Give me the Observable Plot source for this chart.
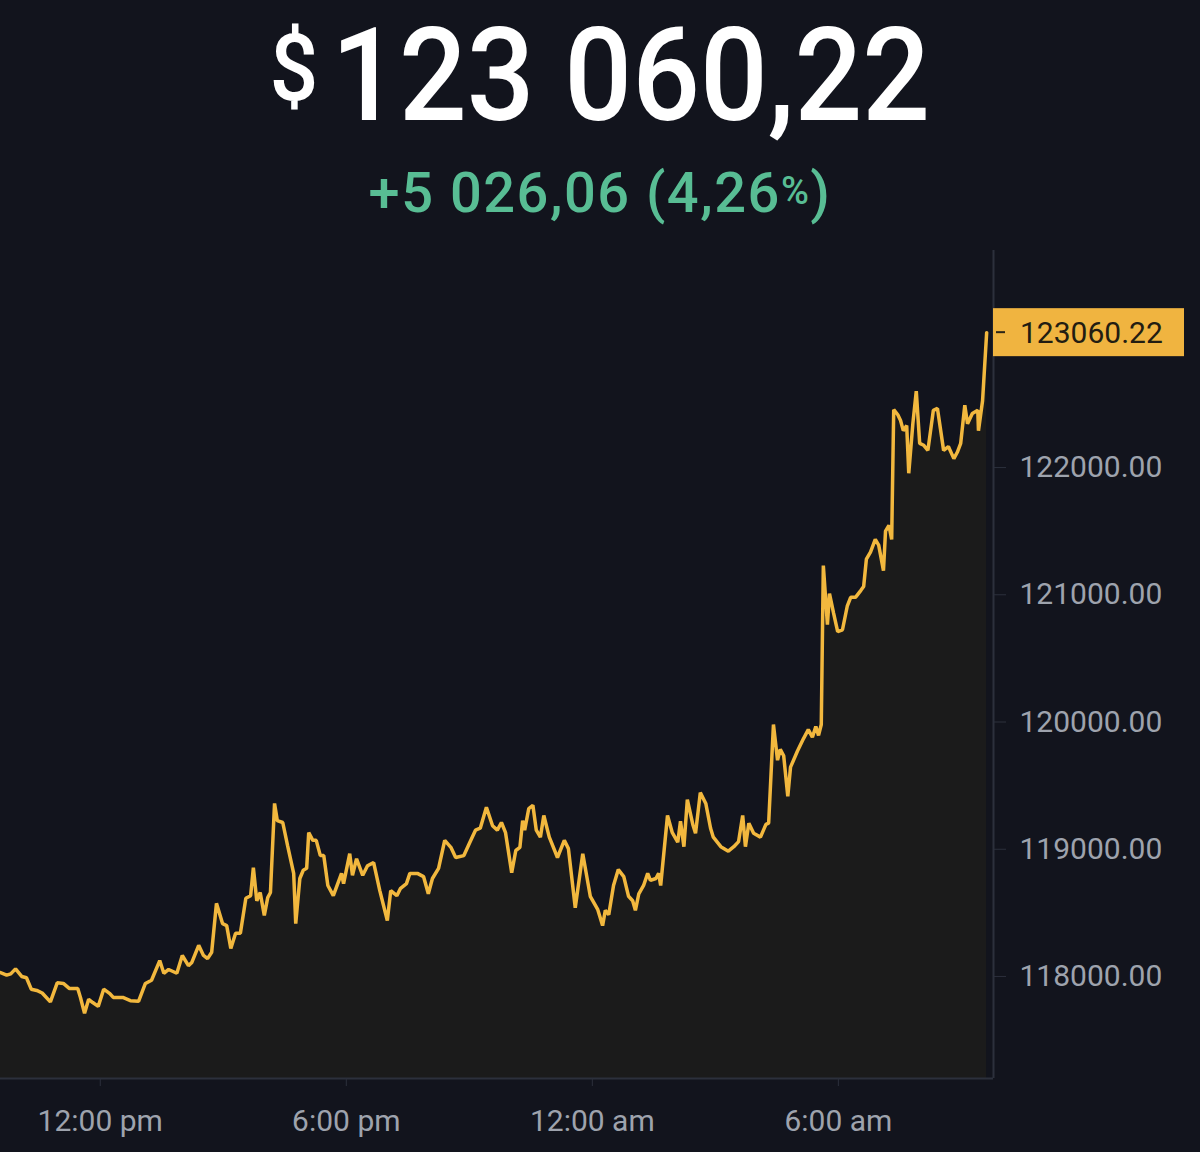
<!DOCTYPE html>
<html><head><meta charset="utf-8">
<script src="https://cdn.jsdelivr.net/npm/d3@7"></script>
<script src="https://cdn.jsdelivr.net/npm/@observablehq/plot@0.6"></script>
<style>
html,body{margin:0;padding:0;background:#12141d;width:1200px;height:1152px;overflow:hidden;font-family:Roboto,"Noto Sans",sans-serif;}
#head{position:relative;height:240px;width:1200px;}
#price{position:absolute;left:0;top:11px;width:1200px;text-align:center;color:#ffffff;font-size:129px;font-weight:500;line-height:1;transform:scaleX(0.925);transform-origin:597px 0;white-space:nowrap;}
#price .cur{font-size:93px;position:relative;top:-20px;margin-right:14px;}
#change{position:absolute;left:0;top:165px;width:1200px;text-align:center;color:#58bd94;font-size:56px;font-weight:500;line-height:1;letter-spacing:1.5px;white-space:nowrap;}
#change .pct{font-size:38px;position:relative;top:-8px;}
#chart{position:absolute;left:0;top:240px;}
</style>
</head><body>
<div id="head">
  <div id="price"><span class="cur">$</span>123 060,22</div>
  <div id="change">+5 026,06 (4,26<span class="pct">%</span>)</div>
</div>
<div id="chart"></div>
<script>
// minutes after 09:34 (start of the 24h window)
const minutes = [
0,9,15,22,31,38,45,53,61,73,
83,92,101,113,117,123,129,135,143,151,
160,165,179,190,202,212,221,233,239,246,
258,266,275,280,290,297,303,309,316,325,
331,337,344,351,359,366,370,375,380,386,
391,395,401,405,413,420,429,432,438,443,
448,451,457,462,468,473,479,487,499,502,
511,515,521,530,537,546,555,566,571,580,
585,594,599,610,619,626,632,641,650,659,
666,678,686,695,702,711,720,727,733,739,
748,754,760,764,767,773,779,784,790,795,
803,815,825,831,841,852,863,874,881,885,
890,897,904,912,919,925,929,934,941,947,
951,959,963,966,976,983,991,995,1000,1005,
1013,1017,1024,1032,1039,1043,1054,1065,1073,1080,
1086,1090,1095,1102,1112,1120,1124,1131,1137,1141,
1146,1152,1156,1166,1175,1182,1188,1193,1197,1201,
1204,1210,1213,1219,1225,1232,1239,1244,1251,1259,
1263,1267,1273,1280,1285,1292,1295,1300,1304,1307,
1313,1317,1321,1326,1329,1335,1340,1345,1351,1357,
1365,1371,1380,1387,1395,1400,1405,1411,1415,1422,
1430,1431,1437,1443];
const prices = [
118030,118010,118020,118060,118000,117990,117900,117890,117870,117800,
117950,117945,117905,117905,117835,117710,117820,117795,117765,117900,
117865,117835,117835,117810,117805,117945,117970,118125,118025,118055,
118025,118165,118085,118110,118245,118165,118140,118190,118575,118415,
118400,118220,118340,118340,118615,118635,118855,118595,118660,118480,
118620,118660,119360,119225,119210,119030,118810,118415,118770,118835,
118850,119130,119070,119070,118950,118950,118715,118635,118810,118730,
118965,118795,118925,118795,118870,118895,118675,118440,118675,118635,
118690,118730,118810,118810,118785,118650,118770,118850,119070,119015,
118935,118950,119045,119150,119165,119330,119185,119150,119210,119130,
118815,118990,119015,119225,119150,119320,119345,119150,119095,119265,
119095,118935,119070,119005,118540,118965,118630,118525,118400,118520,
118485,118715,118840,118785,118630,118595,118520,118650,118715,118810,
118755,118770,118810,118715,119265,119130,119055,119220,119020,119390,
119195,119125,119445,119360,119165,119095,119020,118985,119020,119060,
119265,119020,119205,119125,119095,119195,119205,119980,119700,119785,
119735,119415,119645,119770,119870,119940,119880,119965,119895,119980,
121230,120765,121010,120855,120710,120725,120910,120980,120980,121035,
121065,121280,121335,121435,121390,121190,121500,121545,121435,122455,
122415,122370,122290,122330,121955,122345,122600,122190,122175,122135,
122450,122465,122135,122165,122070,122120,122190,122490,122345,122425,
122450,122290,122525,123060.22];
const yTicks = [118000, 119000, 120000, 121000, 122000];
const windowMinutes = 1453;
const yDomain = [117198, 123706];

const start = Date.UTC(2025, 6, 13, 9, 34);
const end = new Date(start + windowMinutes * 60000);
const data = minutes.map((m, i) => ({time: new Date(start + m * 60000), price: prices[i]}));
const last = prices[prices.length - 1];
const xTicks = d3.utcHour.every(6).range(new Date(start), end);
const fmtTime = d3.utcFormat("%-I:%M %p");
const axisColor = "#2c303c";
const labelColor = "#9ea3ad";

const chart = Plot.plot({
  width: 1200, height: 912,
  marginTop: 10, marginBottom: 74, marginLeft: 0, marginRight: 207,
  style: {background: "transparent", color: labelColor, fontFamily: "Roboto, sans-serif", fontSize: "30px"},
  x: {type: "utc", domain: [new Date(start), end]},
  y: {domain: yDomain},
  marks: [
    Plot.areaY(data, {x: "time", y1: () => yDomain[0], y2: "price", fill: "#f0b90b", fillOpacity: 0.045}),
    Plot.ruleY([yDomain[0]], {stroke: axisColor, strokeWidth: 2}),
    Plot.ruleX([end], {stroke: axisColor, strokeWidth: 2}),
    Plot.lineY(data, {x: "time", y: "price", stroke: "#f2b83e", strokeWidth: 3.5, strokeLinejoin: "miter"}),
    Plot.axisY(yTicks, {anchor: "right", tickSize: 12, tickPadding: 14, tickFormat: d => d.toFixed(2), stroke: axisColor, fill: labelColor, fontSize: 30, label: null}),
    Plot.axisX(xTicks, {anchor: "bottom", tickSize: 8, tickPadding: 23, tickFormat: d => fmtTime(d).toLowerCase(), stroke: axisColor, fill: labelColor, fontSize: 30, label: null})
  ]
});

// current price tag on the right axis, positioned through the chart's scales
const sx = chart.scale("x"), sy = chart.scale("y");
const cy = sy.apply(last), x0 = sx.apply(end);
const g = d3.select(chart).append("g");
g.append("rect").attr("x", x0).attr("y", cy - 24).attr("width", 191).attr("height", 48).attr("fill", "#f0b440");
g.append("line").attr("x1", x0 + 3).attr("x2", x0 + 12).attr("y1", cy).attr("y2", cy).attr("stroke", "#2a2417").attr("stroke-width", 2);
g.append("text").attr("x", x0 + 27).attr("y", cy).attr("dy", "0.36em").attr("fill", "#221d12")
  .attr("text-anchor", "start").attr("font-size", 30).attr("font-family", "Roboto, sans-serif").text(last.toFixed(2));

document.getElementById("chart").appendChild(chart);
</script>
</body></html>
